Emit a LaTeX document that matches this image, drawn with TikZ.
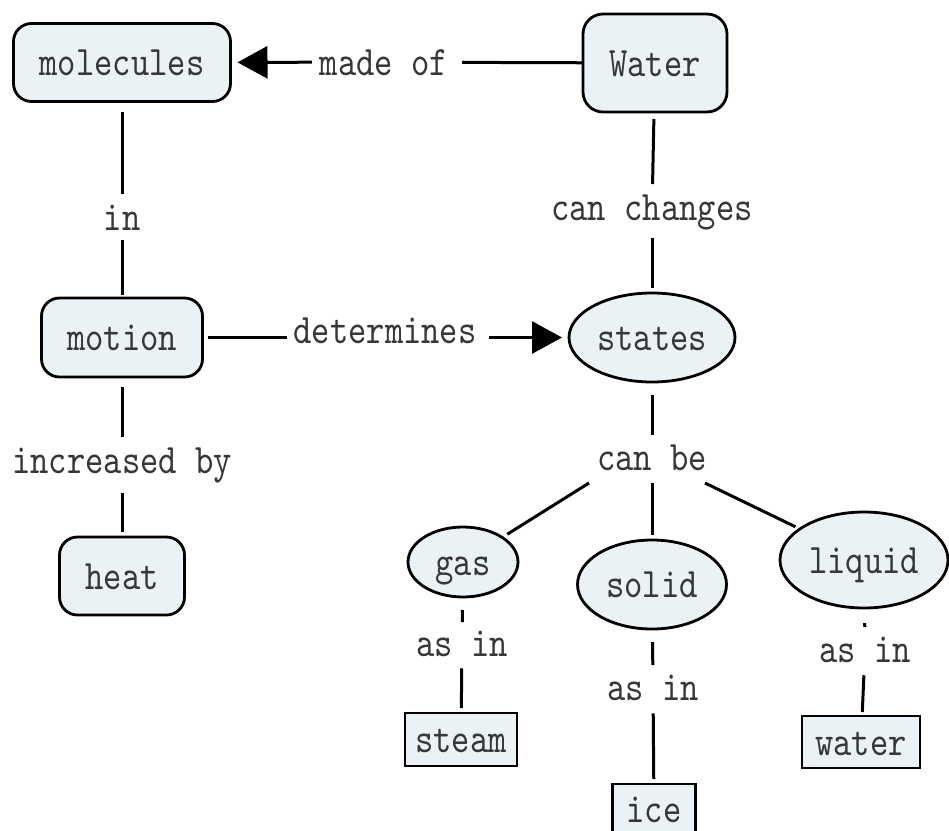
\documentclass[tikz,border=0pt]{standalone}
\usepackage{fontspec}
\usetikzlibrary{arrows.meta,shapes.geometric}
\newfontfamily\mapfont[FakeStretch=0.83]{lmmono10-regular.otf}
\definecolor{conceptfill}{RGB}{235,242,245}
\definecolor{inkgray}{RGB}{55,55,55}

\begin{document}
\begin{tikzpicture}[x=1pt,y=-1pt,
  every node/.style={font=\mapfont\fontsize{42}{48}\selectfont, text=inkgray,
    inner sep=0pt, outer sep=0pt},
  concept/.style={draw=black, line width=2.8pt, fill=conceptfill,
    text height=26pt, text depth=0pt},
  roundbox/.style={concept, rectangle, rounded corners=18pt},
  ovalbox/.style={concept, ellipse},
  plainbox/.style={concept, rectangle},
  linklabel/.style={text height=26pt, anchor=base},
  tolabel/.style={line width=3pt, shorten <=10pt, shorten >=10pt},
  fromlabel/.style={line width=3pt, shorten <=10pt, shorten >=5pt},
  arrowlink/.style={line width=3pt, shorten <=8pt, shorten >=7pt,
    -{Triangle[length=30pt,width=32pt]}},
]
\fill[white] (0,0) rectangle (949,830);
\useasboundingbox (0,0) rectangle (949,830);

% concepts
\node[roundbox, minimum width=217pt, minimum height=78pt] (molecules) at (122,62.5) {molecules};
\node[roundbox, rounded corners=20pt, minimum width=144pt, minimum height=98pt] (water) at (655,63) {Water};
\node[roundbox, minimum width=161pt, minimum height=79pt] (motion) at (122,337.5) {motion};
\node[roundbox, minimum width=125pt, minimum height=78pt] (heat) at (122,576) {heat};
\node[ovalbox, minimum width=166pt, minimum height=89pt] (states) at (652,337.5) {states};
\node[ovalbox, minimum width=110pt, minimum height=70pt] (gas) at (463,562) {gas};
\node[ovalbox, minimum width=149pt, minimum height=89pt] (solid) at (652,584.5) {solid};
\node[ovalbox, minimum width=168pt, minimum height=96pt] (liquid) at (864,560) {liquid};
\node[plainbox, minimum width=112pt, minimum height=53pt] (steam) at (461,739.5) {steam};
\node[plainbox, minimum width=83pt, minimum height=50pt] (ice) at (654,809) {ice};
\node[plainbox, minimum width=118pt, minimum height=52pt] (wet) at (861,742) {water};

% linking phrases
\node[linklabel] (madeof) at (384,75) {made of};
\node[linklabel] (in) at (122,230) {in};
\node[linklabel] (incby) at (122,473) {increased by};
\node[linklabel] (canchanges) at (652,220) {can changes};
\node[linklabel] (determines) at (385,343) {determines};
\node[linklabel] (canbe) at (652,470) {can be};
\node[linklabel] (asgas) at (462,656) {as in};
\node[linklabel] (assolid) at (653,700) {as in};
\node[linklabel] (asliquid) at (865,662) {as in};

% line ends under "can be"
\coordinate (cbL) at (589,483);
\coordinate (cbM) at (652,483);
\coordinate (cbR) at (705,483);

% connectors
\draw[line width=3pt, shorten <=0pt, shorten >=14pt] (water) -- (madeof);
\draw[arrowlink] (madeof) -- (molecules);
\draw[tolabel] (molecules) -- (in);
\draw[fromlabel, shorten >=3pt] (in) -- (motion);
\draw[tolabel] (motion) -- (incby);
\draw[fromlabel] (incby) -- (heat);
\draw[line width=3pt, shorten <=5pt, shorten >=6pt] (motion.east) -- (motion.east -| determines.west);
\draw[arrowlink, shorten <=12pt] (determines.east |- states.west) -- (states.west);
\draw[tolabel, shorten <=7pt] (water) -- (canchanges);
\draw[fromlabel, shorten <=8pt] (canchanges) -- (states);
\draw[tolabel, shorten <=13pt, shorten >=9pt] (states) -- (canbe);
\draw[line width=3pt, shorten >=6pt] (cbL) -- (gas);
\draw[line width=3pt, shorten >=5pt] (cbM) -- (solid);
\draw[line width=3pt, shorten >=5pt] (cbR) -- (liquid);
\draw[tolabel, shorten <=13pt, shorten >=8pt] (gas) -- (asgas);
\draw[fromlabel, shorten <=12pt] (asgas) -- (steam);
\draw[tolabel, shorten <=13pt, shorten >=9pt] (solid) -- (assolid);
\draw[fromlabel, shorten <=13pt] (assolid) -- (ice);
\draw[tolabel, shorten <=15pt, shorten >=9pt] (liquid) -- (asliquid);
\draw[fromlabel, shorten <=13pt, shorten >=4pt] (asliquid) -- (wet);
\end{tikzpicture}
\end{document}
